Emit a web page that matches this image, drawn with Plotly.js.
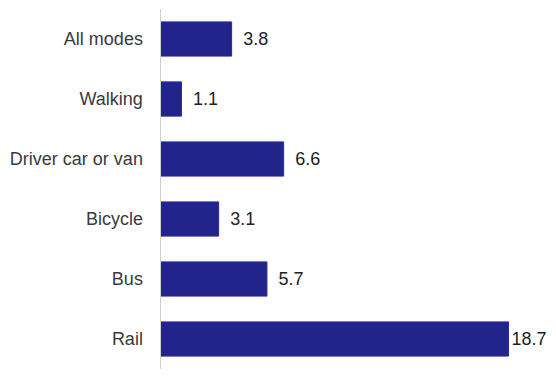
<!DOCTYPE html>
<html><head><meta charset="utf-8">
<script src="https://cdn.plot.ly/plotly-3.0.1.min.js"></script>
<style>html,body{margin:0;padding:0;background:#fff}#chart{width:556px;height:378px}</style>
</head><body><div id="chart"></div>
<script>
const categories = ["All modes", "Walking", "Driver car or van", "Bicycle", "Bus", "Rail"];
const values = [3.8, 1.1, 6.6, 3.1, 5.7, 18.7];

const labels = values.map((v, i) => (v > 15 ? '' : '\u00a0\u2009') + v.toFixed(1));

const trace = {
  type: 'bar',
  orientation: 'h',
  y: categories,
  x: values,
  text: labels,
  textposition: 'outside',
  cliponaxis: false,
  textfont: {family: 'Liberation Sans, Arial, sans-serif', size: 18, color: '#222'},
  marker: {color: '#23238c', line: {color: '#2a2a95', width: 1}},
  width: 0.57,
  hoverinfo: 'none'
};

const layout = {
  width: 556, height: 378,
  margin: {l: 161, r: 14, t: 9, b: 9},
  paper_bgcolor: '#fff', plot_bgcolor: '#fff',
  showlegend: false,
  font: {family: 'Liberation Sans, Arial, sans-serif', size: 18, color: '#333'},
  xaxis: {range: [0, 20.5], visible: false, fixedrange: true},
  yaxis: {
    autorange: 'reversed',
    showline: true, linecolor: '#d0d0d0', linewidth: 1.5,
    showgrid: false, zeroline: false,
    ticks: 'outside', ticklen: 13, tickcolor: 'rgba(0,0,0,0)',
    tickfont: {size: 18, color: '#3a3a3a'}
  },
  bargap: 0.43
};

Plotly.newPlot('chart', [trace], layout, {displayModeBar: false, staticPlot: true});
</script>
</body></html>
